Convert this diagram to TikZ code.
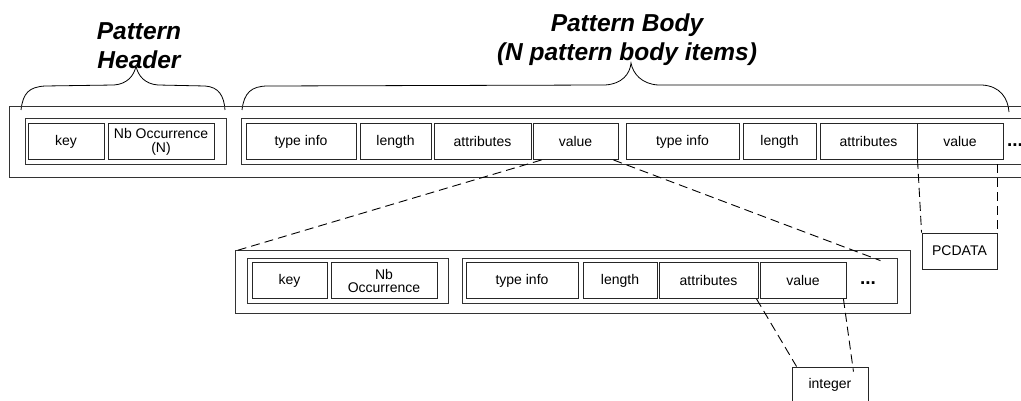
\documentclass[tikz,border=0pt]{standalone}
\usepackage{fontspec}
\setmainfont{Liberation Sans}
\tikzset{
  every node/.style={font=\fontsize{14}{14}\selectfont},
  frame/.style = {rectangle, draw=black!80, line width=0.8pt, inner sep=0pt},
  cell/.style  = {rectangle, draw=black!85, line width=0.9pt, inner sep=0pt,
                  align=center, minimum height=36pt},
  more/.style  = {font=\fontsize{19}{19}\selectfont\bfseries, inner sep=0pt},
  title/.style = {font=\fontsize{24.5}{29}\selectfont\bfseries\itshape, align=center},
  link/.style  = {draw=black, line width=0.9pt, dash pattern=on 9pt off 5pt},
  brace/.style = {draw=black, line width=0.8pt},
}

\begin{document}
\begin{tikzpicture}[x=1pt, y=-1pt]
  \useasboundingbox (0,0) rectangle (1021,401);

  % ---- titles and braces ----
  \node[title] (thead) at (139,46) {Pattern\\Header};
  \node[title] (tbody) at (627,40) {Pattern Body\\(N pattern body items)};
  \draw[brace] (21,110) .. controls (23,93) and (29,87) .. (45,86) -- (114,85)
    .. controls (127,84) and (134,76) .. (136,66)
    .. controls (138,76) and (145,84) .. (158,85) -- (205,86)
    .. controls (219,87) and (224,96) .. (225,110);
  \draw[brace] (242,110) .. controls (244,93) and (251,86) .. (268,86) -- (605,85)
    .. controls (622,84) and (630,74) .. (631,63)
    .. controls (633,74) and (642,84) .. (658,85) -- (982,85)
    .. controls (1000,86) and (1008,98) .. (1009,112);

  % ---- top record ----
  \node[frame, minimum width=1031pt, minimum height=71.5pt] (top)   at (524.5,142) {};
  \node[frame, minimum width=201pt,  minimum height=46pt]   (thgrp) at (125.5,141) {};
  \node[frame, minimum width=799pt,  minimum height=46pt]   (tbgrp) at (640.5,141) {};

  \node[cell, minimum width=76pt]  (tkey)  at (66,141.5)    {key};
  \node[cell, minimum width=106pt, font=\fontsize{14}{14}\selectfont] (tnb) at (161,141.5) {Nb Occurrence\\(N)};
  \node[cell, minimum width=110pt] (ttype1) at (301,141.5)  {type info};
  \node[cell, minimum width=71pt]  (tlen1)  at (395.5,141.5) {length};
  \node[cell, minimum width=97pt]  (tatt1)  at (482.5,141.5) {attributes};
  \node[cell, minimum width=85pt]  (tval1)  at (575.5,141.5) {value};
  \node[cell, minimum width=113pt] (ttype2) at (682.5,141.5) {type info};
  \node[cell, minimum width=73pt]  (tlen2)  at (779.5,141.5) {length};
  \node[cell, minimum width=97pt]  (tatt2)  at (868.5,141.5) {attributes};
  \node[cell, minimum width=86pt]  (tval2)  at (960,141.5)   {value};
  \node[more] (tdots) at (1015,145) {...};

  % ---- expanded record ----
  \node[frame, minimum width=675pt, minimum height=63pt] (low)   at (572.5,281.5) {};
  \node[frame, minimum width=201pt, minimum height=45pt] (lhgrp) at (347.5,280.5) {};
  \node[frame, minimum width=435pt, minimum height=45pt] (lbgrp) at (679.5,280.5) {};

  \node[cell, minimum width=75pt]  (lkey)  at (289.5,280.5) {key};
  \node[cell, minimum width=106pt, font=\fontsize{14}{13}\selectfont] (lnb) at (384,280.5) {Nb\\Occurrence};
  \node[cell, minimum width=112pt] (ltype) at (522,280.5)   {type info};
  \node[cell, minimum width=74pt]  (llen)  at (620,280.5)   {length};
  \node[cell, minimum width=99pt]  (latt)  at (708.5,280.5) {attributes};
  \node[cell, minimum width=86pt]  (lval)  at (803,280.5)   {value};
  \node[more] (ldots) at (868,283) {...};

  % ---- type boxes ----
  \node[cell, minimum width=75pt] (pcdata) at (959.5,251) {PCDATA};
  \node[cell, minimum width=76pt] (int)    at (830,385)   {integer};

  % ---- dashed expansion lines ----
  \draw[link] ([xshift=9pt]tval1.south west)  -- ([xshift=2pt,yshift=-1pt]low.north west);
  \draw[link] ([xshift=-5pt]tval1.south east) -- ([xshift=-17pt,yshift=-3pt]lbgrp.north east);
  \draw[link] ([xshift=1pt]tval2.south west)  -- (pcdata.north west);
  \draw[link] (pcdata.north east |- tbgrp.south) -- (pcdata.north east);
  \draw[link] ([xshift=-3pt]lval.south west)  -- ([xshift=5pt]int.north west);
  \draw[link] ([xshift=-3pt]lval.south east)  -- ([xshift=-15pt,yshift=-5pt]int.north east);
\end{tikzpicture}
\end{document}
